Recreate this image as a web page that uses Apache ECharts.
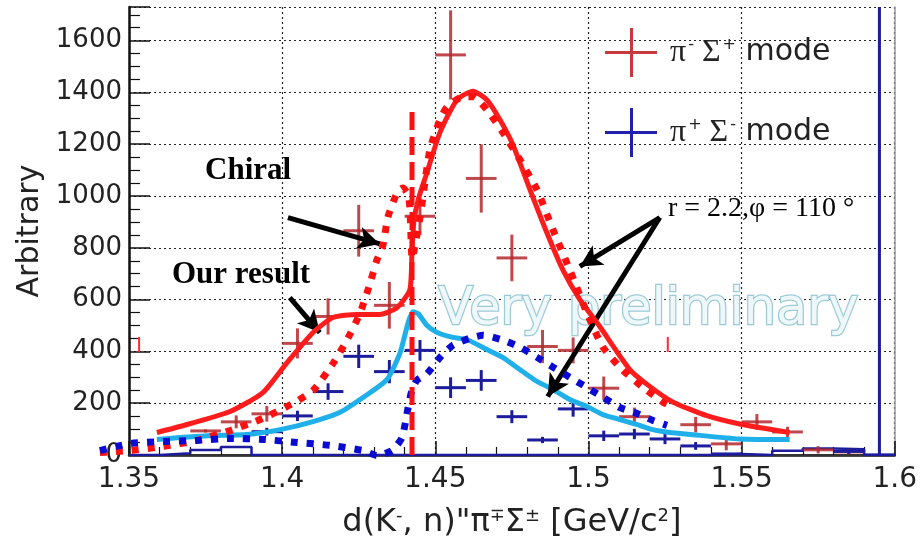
<!DOCTYPE html>
<html>
<head>
<meta charset="utf-8">
<script src="https://cdn.jsdelivr.net/npm/echarts@6/dist/echarts.min.js"></script>
<style>
  html, body { margin: 0; padding: 0; background: #fff; }
  #view { width: 920px; height: 544px; }
</style>
</head>
<body>
<div id="view"></div>
<script>
// axis range
var xMin = 1.35, xMax = 1.6, xStep = 0.05;
var yMin = 0, yMax = 1730, yStep = 200;
var BIN = 0.01;
// the model curves start a bit left of the frame
var xMinWide = 1.339;

// pi- Sigma+ points: [bin centre, value, error]
var redPoints = [
    [1.375, 93, 6], [1.385, 128, 25], [1.395, 159, 30], [1.405, 431, 58],
    [1.415, 535, 70], [1.425, 866, 100], [1.435, 578, 90], [1.445, 922, 72],
    [1.455, 1545, 172], [1.465, 1068, 132], [1.475, 761, 90], [1.485, 419, 64],
    [1.495, 404, 50], [1.505, 258, 45], [1.515, 148, 35], [1.535, 117, 30],
    [1.545, 43, 25], [1.555, 128, 30], [1.565, 89, 20], [1.575, 20, 14],
    [1.585, 12, 10]
];
// two odd red ticks without a bar
var redStray = [[1.3533, 427, 29], [1.5259, 427, 29]];

// pi+ Sigma- points
var bluePoints = [
    [1.395, 90, 15], [1.405, 151, 20], [1.415, 245, 32], [1.425, 381, 45],
    [1.435, 322, 45], [1.445, 404, 40], [1.455, 260, 40], [1.465, 288, 40],
    [1.475, 148, 25], [1.485, 58, 12], [1.495, 178, 30], [1.505, 74, 20],
    [1.515, 81, 20], [1.525, 62, 20], [1.535, 35, 15], [1.545, 4, 4],
    [1.585, 14, 10], [1.595, 0, 1800]
];
// hollow blue histogram: [bin low edge, content]
var blueHist = [
    [1.35, 0], [1.36, 7], [1.37, 19], [1.38, 31], [1.39, 0], [1.54, 4],
    [1.55, 0], [1.56, 16], [1.57, 25], [1.58, 22], [1.59, 0], [1.60, 0]
];

// model curves
var redSolid = [
    [1.3591, 87], [1.3666, 110], [1.3830, 168], [1.3937, 241], [1.4016, 357],
    [1.4101, 473], [1.4166, 531], [1.4244, 543], [1.4319, 543], [1.4375, 569],
    [1.4417, 639], [1.4424, 793], [1.4430, 900], [1.4445, 990], [1.4473, 1091],
    [1.4515, 1245], [1.4571, 1372], [1.4623, 1405], [1.4668, 1372], [1.4711, 1295],
    [1.4753, 1199], [1.4809, 1025], [1.4864, 859], [1.4916, 716], [1.4972, 600],
    [1.5037, 496], [1.5135, 330], [1.5200, 265], [1.5275, 205], [1.5386, 152],
    [1.5494, 120], [1.5657, 87]
];
var redDotted = [
    [1.3405, 13], [1.3503, 21], [1.3611, 37], [1.3722, 60], [1.3830, 98],
    [1.3937, 145], [1.4035, 203], [1.4101, 253], [1.4166, 357], [1.4211, 446],
    [1.4254, 550], [1.4287, 666], [1.4309, 755], [1.4329, 813], [1.4345, 921],
    [1.4375, 1014], [1.4394, 1033], [1.4411, 1006], [1.4417, 950], [1.4424, 760],
    [1.4430, 790], [1.4450, 921], [1.4482, 1180], [1.4515, 1295], [1.4538, 1345],
    [1.4590, 1384], [1.4623, 1384], [1.4668, 1334], [1.4721, 1245], [1.4776, 1141],
    [1.4832, 1025], [1.4884, 871], [1.4939, 716], [1.4995, 550], [1.5047, 419],
    [1.5112, 330], [1.5178, 264], [1.5243, 207], [1.5255, 200]
];
var blueDotted = [
    [1.3405, 21], [1.3503, 48], [1.3611, 56], [1.3722, 60], [1.3830, 68],
    [1.3937, 64], [1.4048, 52], [1.4156, 41], [1.4264, 21], [1.4309, 2],
    [1.4358, 21], [1.4391, 71], [1.4411, 187], [1.4424, 257], [1.4440, 292],
    [1.4473, 318], [1.4515, 380], [1.4557, 427], [1.4613, 454], [1.4655, 465],
    [1.4721, 446], [1.4776, 419], [1.4832, 380], [1.4884, 342], [1.4939, 303],
    [1.4995, 264], [1.5047, 226], [1.5102, 187], [1.5158, 164], [1.5210, 137],
    [1.5256, 118]
];
var cyanCurve = [
    [1.3591, 60], [1.3666, 68], [1.3774, 75], [1.3885, 79], [1.3993, 98],
    [1.4101, 129], [1.4189, 165], [1.4264, 222], [1.4342, 291], [1.4385, 394],
    [1.4411, 510], [1.4427, 553], [1.4445, 545], [1.4473, 500], [1.4506, 473],
    [1.4557, 454], [1.4603, 446], [1.4668, 407], [1.4721, 376], [1.4776, 330],
    [1.4832, 284], [1.4884, 253], [1.4939, 214], [1.4995, 187], [1.5047, 156],
    [1.5102, 137], [1.5158, 118], [1.5210, 98], [1.5266, 87], [1.5327, 80],
    [1.5494, 62], [1.5657, 60]
];
// threshold marker
var threshold = [[1.4424, 0], [1.4424, 1332]];

// annotation arrows: [from, to]
var arrows = [
    [[1.4019, 917], [1.4319, 815]],
    [[1.4025, 608], [1.4123, 473]],
    [[1.5233, 917], [1.4972, 728]],
    [[1.5233, 917], [1.4867, 226]]
];

var RED_NAME = 'pim_sigp', BLUE_NAME = 'pip_sigm';
var SANS = 'DejaVu Sans', SERIF = 'Liberation Serif';

// plot frame in px
var G_LEFT = 129, G_RIGHT = 25, G_TOP = 7, G_BOTTOM = 88;
var pxPerUnit = (920 - G_LEFT - G_RIGHT) / (xMax - xMin);

function crossItem(color, width, halfBin) {
    return function (params, api) {
        var x = api.value(0), y = api.value(1), e = api.value(2);
        var c = api.coord([x, y]);
        var top = api.coord([x, y + e]);
        var bot = api.coord([x, Math.max(y - e, 0)]);
        var kids = [{
            type: 'line',
            shape: {x1: c[0], y1: top[1], x2: c[0], y2: bot[1]},
            style: {stroke: color, lineWidth: width}
        }];
        if (halfBin) {
            var l = api.coord([x - halfBin, y]), r = api.coord([x + halfBin, y]);
            kids.push({
                type: 'line',
                shape: {x1: l[0], y1: c[1], x2: r[0], y2: c[1]},
                style: {stroke: color, lineWidth: width}
            });
        }
        return {type: 'group', children: kids};
    };
}

function curve(data, color, width, dash, z, axis) {
    return {
        type: 'line', data: data, showSymbol: false, clip: false, silent: true,
        z: z, animation: false, smooth: dash && dash.length === 2 && dash[0] > 10 ? false : 0.2,
        xAxisIndex: axis || 0, yAxisIndex: axis || 0,
        lineStyle: {color: color, width: width, type: dash || 'solid', cap: 'butt'}
    };
}

var myChart = echarts.init(document.getElementById('view'));
var crossIcon = 'path://M0,23L52,23L52,26L0,26Z M25,0L28,0L28,49L25,49Z';

var option = {
    backgroundColor: '#fff',
    animation: false,
    grid: [
        {left: G_LEFT, right: G_RIGHT, top: G_TOP, bottom: G_BOTTOM},
        // same scale, wider to the left, for the curves that overhang
        {left: G_LEFT - (xMin - xMinWide) * pxPerUnit, right: G_RIGHT, top: G_TOP, bottom: G_BOTTOM}
    ],
    legend: {
        orient: 'vertical', left: 600, top: 23,
        itemWidth: 52, itemHeight: 49, itemGap: 31,
        data: [{name: RED_NAME, icon: crossIcon}, {name: BLUE_NAME, icon: crossIcon}],
        formatter: function (name) {
            return name === RED_NAME
                ? '{p|π}{s|-}{p|Σ}{s|+} {m|mode}'
                : '{p|π}{s|+}{p|Σ}{s|-} {m|mode}';
        },
        textStyle: {
            color: '#222', fontFamily: SANS, fontSize: 30,
            rich: {
                p: {fontFamily: SERIF, fontSize: 32, color: '#222', padding: [0, 2, 0, 8]},
                s: {fontFamily: SANS, fontSize: 16, color: '#222', verticalAlign: 'top'},
                m: {fontFamily: SANS, fontSize: 30, color: '#222'}
            }
        }
    },
    xAxis: [{
        type: 'value', min: xMin, max: xMax, interval: xStep,
        name: '{a|d(K}{s|-}{a|, n)"π}{s|∓}{a|Σ}{s|±}{a| [GeV/c}{s|2}{a|]}',
        nameLocation: 'middle', nameGap: 52,
        nameTextStyle: {
            rich: {
                a: {fontFamily: SANS, fontSize: 32, color: '#222'},
                s: {fontFamily: SANS, fontSize: 18, color: '#222', verticalAlign: 'top'}
            }
        },
        axisLine: {onZero: false, lineStyle: {color: '#111', width: 2.5}},
        axisTick: {inside: true, length: 14, lineStyle: {color: '#111', width: 1.5}},
        minorTick: {show: true, splitNumber: 5, length: 8, lineStyle: {color: '#111', width: 1.2}},
        axisLabel: {
            color: '#222', fontFamily: SANS, fontSize: 28, margin: 11,
            formatter: function (v) { return String(+v.toFixed(2)); }
        },
        splitLine: {show: true, lineStyle: {color: '#222', type: [2, 3], width: 1.2}}
    }, {
        type: 'value', position: 'top', min: xMin, max: xMax,
        axisLine: {show: true, lineStyle: {color: '#333', width: 2}},
        axisTick: {show: false}, axisLabel: {show: false}, splitLine: {show: false}
    }, {
        type: 'value', gridIndex: 1, min: xMinWide, max: xMax, show: false
    }],
    yAxis: [{
        type: 'value', min: yMin, max: yMax, interval: yStep,
        name: 'Arbitrary', nameLocation: 'middle', nameGap: 84,
        nameTextStyle: {fontFamily: SANS, fontSize: 30, color: '#222'},
        axisLine: {show: true, lineStyle: {color: '#111', width: 2.5}},
        axisTick: {inside: true, length: 21, lineStyle: {color: '#111', width: 1.5}},
        minorTick: {show: true, splitNumber: 4, length: 11, lineStyle: {color: '#111', width: 1.2}},
        axisLabel: {
            color: '#222', fontFamily: SANS, fontSize: 26, margin: 7, showMaxLabel: false,
            formatter: function (v) { return String(v); }
        },
        splitLine: {show: true, lineStyle: {color: '#222', type: [2, 3], width: 1.2}}
    }, {
        type: 'value', position: 'right', min: yMin, max: yMax,
        axisLine: {show: true, lineStyle: {color: '#999', width: 1.5}},
        axisTick: {show: false}, axisLabel: {show: false}, splitLine: {show: false}
    }, {
        type: 'value', gridIndex: 1, min: yMin, max: yMax, show: false
    }],
    series: [
        {
            type: 'line', data: blueHist, step: 'end', showSymbol: false, silent: true,
            z: 2, lineStyle: {color: '#1c1c9c', width: 2.5}
        },
        {
            name: RED_NAME, type: 'custom', data: redPoints, z: 3, clip: true,
            itemStyle: {color: '#c8383c'},
            renderItem: crossItem('rgba(180,40,45,0.85)', 3, BIN / 2)
        },
        {
            type: 'custom', data: redStray, z: 3, silent: true,
            renderItem: crossItem('#ff2a2a', 2, 0)
        },
        {
            name: BLUE_NAME, type: 'custom', data: bluePoints, z: 3, clip: true,
            itemStyle: {color: '#1f1fb0'},
            renderItem: crossItem('#1c1c9c', 3, BIN / 2)
        },
        curve(cyanCurve, '#1fb0ea', 5, null, 4),
        curve(redSolid, '#ff1c1c', 5, null, 5),
        curve(redDotted, '#ff1010', 7, [7, 9], 5, 2),
        curve(blueDotted, '#0a0ad2', 7, [7, 9], 5, 2),
        curve(threshold, '#ff1010', 5, [18, 7], 6),
        {
            type: 'line', data: [], silent: true, z: 7,
            markLine: {
                silent: true, animation: false,
                symbol: ['none', 'arrow'], symbolSize: [17, 22],
                label: {show: false},
                lineStyle: {color: '#000', width: 5, type: 'solid'},
                emphasis: {disabled: true},
                data: arrows.map(function (a) {
                    return [{coord: a[0]}, {coord: a[1]}];
                })
            }
        }
    ],
    graphic: [
        {
            type: 'text', left: 437, top: 284, z: 1, silent: true,
            style: {
                text: 'Very preliminary', fontFamily: SANS, fontSize: 51,
                fill: '#eef7f9', stroke: '#9ccbd6', lineWidth: 2.5
            }
        },
        {
            type: 'text', left: 205, top: 155, z: 10, silent: true,
            style: {text: 'Chiral', fontFamily: SERIF, fontWeight: 'bold', fontSize: 31, fill: '#000'}
        },
        {
            type: 'text', left: 172, top: 259, z: 10, silent: true,
            style: {text: 'Our result', fontFamily: SERIF, fontWeight: 'bold', fontSize: 31, fill: '#000'}
        },
        {
            type: 'text', left: 668, top: 195, z: 10, silent: true,
            style: {text: 'r = 2.2,φ = 110 °', fontFamily: SERIF, fontSize: 28, fill: '#000'}
        }
    ]
};
myChart.setOption(option);
</script>
</body>
</html>
